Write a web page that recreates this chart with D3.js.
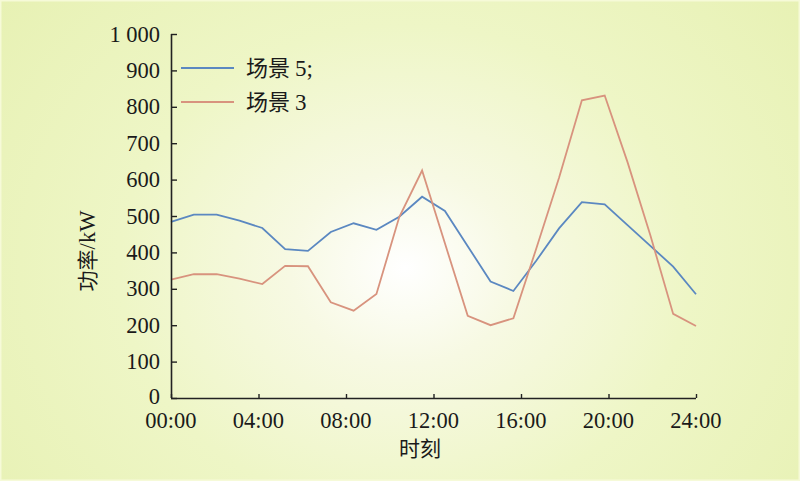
<!DOCTYPE html>
<html>
<head>
<meta charset="utf-8">
<script src="https://cdn.jsdelivr.net/npm/d3@7"></script>
<style>
html,body{margin:0;padding:0;background:#fff;}
svg{display:block;}
</style>
</head>
<body>
<svg id="chart" width="800" height="481"></svg>
<script>
// ---- data ----
const pointIndex = d3.range(24); // 24 samples spread across 00:00-24:00
const scene5 = [484, 504, 504, 487, 467, 409, 404, 456, 480, 462, 498, 553, 514, 417, 320, 294, 377, 466, 538, 532, 475, 418, 361, 285];
const scene3 = [325, 340, 340, 328, 313, 363, 362, 263, 240, 286, 497, 625, 425, 226, 200, 219, 410, 605, 818, 831, 648, 447, 231, 198];
const seriesNames = ["场景 5;", "场景 3"];
const seriesColors = ["#5b88c1", "#d8937e"];
const xTickHours = [0, 4, 8, 12, 16, 20, 24];
const xTickLabels = ["00:00", "04:00", "08:00", "12:00", "16:00", "20:00", "24:00"];
const yTicks = [0, 100, 200, 300, 400, 500, 600, 700, 800, 900, 1000];
const yTickLabels = ["0", "100", "200", "300", "400", "500", "600", "700", "800", "900", "1 000"];

(function () {
const W = 800, H = 481;
const pL = 171, pR = 696, pT = 34, pB = 398;
const svg = d3.select("#chart");

// background radial gradient
const defs = svg.append("defs");
const grad = defs.append("radialGradient").attr("id", "bg")
  .attr("gradientUnits", "userSpaceOnUse")
  .attr("cx", 405).attr("cy", 268).attr("r", 520)
  .attr("gradientTransform", "translate(405,268) scale(1,0.85) translate(-405,-268)");
grad.append("stop").attr("offset", "0%").attr("stop-color", "#ffffff");
grad.append("stop").attr("offset", "22%").attr("stop-color", "#f7f9e3");
grad.append("stop").attr("offset", "55%").attr("stop-color", "#eef6c6");
grad.append("stop").attr("offset", "100%").attr("stop-color", "#e7f1b3");
svg.append("rect").attr("width", W).attr("height", H).attr("fill", "url(#bg)");
svg.append("rect").attr("x", 0.75).attr("y", 0.75).attr("width", W - 1.5).attr("height", H - 1.5)
  .attr("fill", "none").attr("stroke", "#f6fad8").attr("stroke-width", 1.5);

// scales
const xIdx = d3.scaleLinear().domain([0, 23]).range([pL, pR]);
const xTime = d3.scaleLinear().domain([0, 24]).range([pL, pR]);
const y = d3.scaleLinear().domain([0, 1000]).range([pB, pT]);

const serif = "'Liberation Serif','Times New Roman',serif";
const cjkFont = "'Noto Sans CJK SC',sans-serif";

// lines
const line = d3.line().x((d, i) => xIdx(pointIndex[i])).y(d => y(d));
[scene5, scene3].forEach((s, k) => {
  svg.append("path").datum(s).attr("d", line)
    .attr("fill", "none").attr("stroke", seriesColors[k])
    .attr("stroke-width", 1.8).attr("stroke-linejoin", "miter");
});

// y axis
const yAxis = d3.axisRight(y).tickValues(yTicks).tickSize(6).tickFormat("");
const gy = svg.append("g").attr("transform", `translate(${pL},0)`).call(yAxis);
gy.select(".domain").attr("stroke", "#222").attr("stroke-width", 1.6).attr("d", `M0.5,${pT}V${pB}`);
gy.selectAll(".tick line").attr("stroke", "#222").attr("stroke-width", 1.4);
svg.append("g").selectAll("text").data(yTicks).join("text")
  .attr("x", 160).attr("y", d => y(d) - (d === 0 ? 2 : 0)).attr("dy", "0.34em")
  .attr("text-anchor", "end").attr("font-family", serif).attr("font-size", 22.5)
  .attr("fill", "#1a1a1a").text((d, i) => yTickLabels[i]);

// x axis
const xAxis = d3.axisTop(xTime).tickValues(xTickHours).tickSize(4).tickFormat("");
const gx = svg.append("g").attr("transform", `translate(0,${pB})`).call(xAxis);
gx.select(".domain").attr("stroke", "#222").attr("stroke-width", 1.6).attr("d", `M${pL},0.5H${pR}`);
gx.selectAll(".tick line").attr("stroke", "#222").attr("stroke-width", 1.4);
svg.append("g").selectAll("text").data(xTickHours).join("text")
  .attr("x", d => xTime(d)).attr("y", 428)
  .attr("text-anchor", "middle").attr("font-family", serif).attr("font-size", 22.5)
  .attr("fill", "#1a1a1a").text((d, i) => xTickLabels[i]);

// axis titles
svg.append("text").attr("x", 420).attr("y", 456).attr("text-anchor", "middle")
  .attr("font-family", cjkFont).attr("font-size", 21)
  .attr("fill", "#1a1a1a").text("时刻");
const yt = svg.append("text").attr("transform", "translate(95,251) rotate(-90)")
  .attr("text-anchor", "middle").attr("font-size", 21).attr("fill", "#1a1a1a");
yt.append("tspan").attr("font-family", cjkFont).text("功率");
yt.append("tspan").attr("font-family", serif).attr("font-size", 22.5).text("/kW");

// legend
const legY = [68, 102];
seriesNames.forEach((name, k) => {
  svg.append("line").attr("x1", 181).attr("x2", 234).attr("y1", legY[k]).attr("y2", legY[k])
    .attr("stroke", seriesColors[k]).attr("stroke-width", 1.8);
  const parts = name.split(" ");
  const t = svg.append("text").attr("x", 246).attr("y", legY[k]).attr("dy", "0.36em")
    .attr("font-size", 22).attr("fill", "#1a1a1a");
  t.append("tspan").attr("font-family", cjkFont).text(parts[0] + " ");
  t.append("tspan").attr("font-family", serif).attr("font-size", 23).text(parts[1]);
});
})();
</script>
</body>
</html>
